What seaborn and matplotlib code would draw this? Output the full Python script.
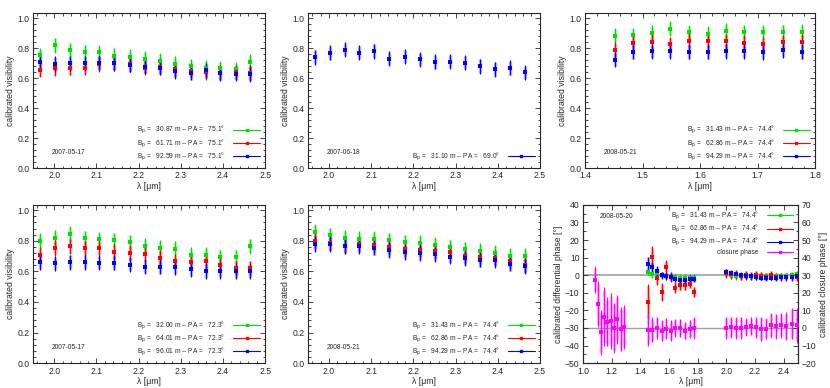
import matplotlib
matplotlib.use("Agg")
import matplotlib.pyplot as plt
import seaborn as sns
import pandas as pd
from matplotlib.lines import Line2D
from matplotlib.ticker import MultipleLocator

sns.set_style("ticks")
plt.rcParams['font.family'] = ['Liberation Sans', 'DejaVu Sans']

GREEN = "#00e000"
RED = "#ff0000"
BLUE = "#0000ff"
MAGENTA = "#ff00ff"

# wavelength grids (micron)
lam_k = [1.967, 2.002, 2.037, 2.072, 2.107, 2.142, 2.179, 2.215, 2.251, 2.287,
         2.323, 2.359, 2.394, 2.430, 2.465]
lam_h = [1.452, 1.484, 1.516, 1.548, 1.580, 1.613, 1.645, 1.677, 1.710, 1.744, 1.778]
lam_j = [1.083, 1.104, 1.126, 1.148, 1.170, 1.192, 1.215, 1.238, 1.262, 1.286]
lam_k2 = [1.995, 2.030, 2.066, 2.101, 2.136, 2.172, 2.207, 2.243, 2.278, 2.313,
          2.349, 2.384, 2.419, 2.455, 2.490]

# panel 1: 2007-05-17
v1_g = [0.751, 0.820, 0.785, 0.773, 0.771, 0.749, 0.742, 0.729, 0.716, 0.696,
        0.678, 0.669, 0.664, 0.658, 0.709]
v1_r = [0.656, 0.665, 0.668, 0.670, 0.693, 0.697, 0.693, 0.670, 0.672, 0.660,
        0.650, 0.638, 0.635, 0.638, 0.635]
v1_b = [0.705, 0.695, 0.698, 0.697, 0.703, 0.697, 0.688, 0.676, 0.670, 0.645,
        0.635, 0.651, 0.632, 0.630, 0.626]
# panel 2: 2007-06-18
v2_b = [0.740, 0.767, 0.790, 0.770, 0.780, 0.730, 0.743, 0.725, 0.707, 0.710,
        0.702, 0.680, 0.660, 0.668, 0.638]
# panel 3: 2008-05-21 H band
v3_g = [0.882, 0.885, 0.903, 0.930, 0.905, 0.895, 0.915, 0.905, 0.905, 0.907, 0.910]
v3_r = [0.787, 0.833, 0.843, 0.825, 0.848, 0.845, 0.845, 0.835, 0.825, 0.838, 0.842]
v3_b = [0.722, 0.775, 0.778, 0.778, 0.775, 0.775, 0.780, 0.778, 0.772, 0.785, 0.775]
# panel 4: 2007-05-17
v4_g = [0.800, 0.818, 0.844, 0.816, 0.809, 0.804, 0.791, 0.767, 0.753, 0.749,
        0.709, 0.709, 0.693, 0.693, 0.764]
v4_r = [0.710, 0.753, 0.765, 0.752, 0.750, 0.728, 0.722, 0.715, 0.688, 0.665,
        0.660, 0.667, 0.645, 0.620, 0.620]
v4_b = [0.660, 0.652, 0.660, 0.660, 0.658, 0.656, 0.645, 0.632, 0.630, 0.628,
        0.613, 0.603, 0.603, 0.600, 0.600]
# panel 5: 2008-05-21 K band
v5_g = [0.858, 0.836, 0.820, 0.815, 0.813, 0.804, 0.790, 0.785, 0.772, 0.758,
        0.744, 0.735, 0.720, 0.703, 0.700]
v5_r = [0.800, 0.787, 0.765, 0.780, 0.770, 0.757, 0.746, 0.742, 0.733, 0.727,
        0.702, 0.695, 0.690, 0.667, 0.642]
v5_b = [0.780, 0.780, 0.765, 0.765, 0.755, 0.740, 0.724, 0.720, 0.712, 0.697,
        0.685, 0.677, 0.673, 0.650, 0.633]
vis_err = 0.05

# panel 6: 2008-05-20 phases (deg)
dp_h_g = [2, 0.5, 1, 0, -0.5, -1, -1, -1.5, -1.5, -1.5, -1.5]
dp_h_r = [-15, 10.5, -1.5, -9.5, 4.5, -1, -7, -5.5, -5.5, -5, -9.5]
dp_h_r_err = [10, 6, 4, 5, 4, 3, 3, 3, 3, 2.5, 3]
dp_h_b = [6.5, 4.5, 2.5, 0, -0.5, -1, -2, -2.5, -2.5, -2, -2]
dp_h_b_err = [4, 3, 2.5, 2, 2, 2, 2, 2, 2, 2, 2]
dp_k_g = [1, 0, -0.5, -0.5, -0.5, -0.5, -0.5, -0.5, -0.5, -0.5, -0.5, -0.5, -0.5, 0, 0.5]
dp_k_r = [1, 0.5, 0.5, -0.5, 0, -0.5, 0, -0.5, -1, 0, -1, -1, -1, -1, -1]
dp_k_b = [2, 1, 0.5, 0, -0.5, -0.5, -1, -1.5, -1.5, -1.5, -1.5, -1, -1, -1, -0.5]
cp_j = [27.5, 13.5, -2.5, 6.5, 3.5, 4, 0, 5, -0.5, 0.5]
cp_j_err = [7.5, 13, 13, 17, 14, 16, 14, 14, 12.5, 12.5]
cp_h = [-1, -1, 0, -1.5, -0.5, -1.5, 0, 0, -1.5, -0.5, 0]
cp_h_err = [9, 7, 6, 6, 6, 6, 5, 5, 5, 5, 6]
cp_k = [0, 0.5, 0, 0, 0.5, 1, 0.5, -0.5, -0.5, 1.5, 1, 1.5, 1, 2.5, 1.5]
cp_k_err = [6, 6, 6, 6, 5, 5, 6, 7, 6, 7, 7, 7, 8, 9, 10]

FS = 6.2
LFS = 4.8


def style_axes(ax, right=True):
    for s in ax.spines.values():
        s.set_visible(True)
        s.set_linewidth(0.8)
    ax.tick_params(which="both", direction="in", top=True, right=right,
                   labelsize=FS, width=0.6, pad=2.5)
    ax.tick_params(which="major", length=3.5)
    ax.tick_params(which="minor", length=1.8)


def series(ax, x, y, color, err=vis_err):
    df = pd.DataFrame({"x": x, "y": y})
    pale = [e * 0.9 for e in err] if isinstance(err, list) else err * 0.9
    ax.errorbar(x, y, yerr=pale, fmt="none", ecolor=color, elinewidth=2.4,
                alpha=0.3, capsize=0)
    ax.errorbar(x, y, yerr=err, fmt="none", ecolor=color, elinewidth=0.8, capsize=0)
    sns.scatterplot(data=df, x="x", y="y", ax=ax, color=color, marker="s", s=6,
                    edgecolor=color, linewidth=0, zorder=5, legend=False)


def vis_panel(rect, lam, data, labels, date, xlim, xstep):
    ax = fig.add_axes(rect)
    for y, c in data:
        series(ax, lam, y, c)
    ax.set_xlim(*xlim)
    ax.set_ylim(0, 1.035)
    ax.xaxis.set_major_locator(MultipleLocator(xstep))
    ax.xaxis.set_minor_locator(MultipleLocator(xstep / 5))
    ax.yaxis.set_major_locator(MultipleLocator(0.2))
    ax.yaxis.set_minor_locator(MultipleLocator(0.04))
    ax.yaxis.set_major_formatter(matplotlib.ticker.FormatStrFormatter("%.1f"))
    ax.set_xlabel("λ [μm]", fontsize=FS, labelpad=1)
    ax.set_ylabel("calibrated visibility", fontsize=FS, labelpad=2)
    style_axes(ax)
    handles = [Line2D([], [], color=c, marker="s", markersize=2, lw=0.8) for _, c in data]
    ax.legend(handles, labels, loc="lower right", frameon=False, markerfirst=False,
              fontsize=LFS, handlelength=4, labelspacing=0.1, borderaxespad=0.4,
              handletextpad=1.2)
    ax.text(0.08, 0.09, date, transform=ax.transAxes, fontsize=LFS)
    return ax


def bp(b, pa):
    return "B$_\\mathrm{p}$ =   %.2f m -- PA =   %.1f°" % (b, pa)


fig = plt.figure(figsize=(8.3, 3.88), dpi=100)

top_b, top_h = 0.567, 0.40
bot_b, bot_h = 0.064, 0.408

vis_panel([0.040, top_b, 0.2795, top_h], lam_k,
          [(v1_g, GREEN), (v1_r, RED), (v1_b, BLUE)],
          [bp(30.87, 75.1), bp(61.71, 75.1), bp(92.59, 75.1)],
          "2007-05-17", (1.95, 2.5), 0.1)
vis_panel([0.371, top_b, 0.2795, top_h], lam_k,
          [(v2_b, BLUE)], [bp(31.10, 69.0)],
          "2007-06-18", (1.95, 2.5), 0.1)
vis_panel([0.705, top_b, 0.277, top_h], lam_h,
          [(v3_g, GREEN), (v3_r, RED), (v3_b, BLUE)],
          [bp(31.43, 74.4), bp(62.86, 74.4), bp(94.29, 74.4)],
          "2008-05-21", (1.4, 1.8), 0.1)
vis_panel([0.040, bot_b, 0.2795, bot_h], lam_k,
          [(v4_g, GREEN), (v4_r, RED), (v4_b, BLUE)],
          [bp(32.00, 72.3), bp(64.01, 72.3), bp(96.01, 72.3)],
          "2007-05-17", (1.95, 2.5), 0.1)
vis_panel([0.371, bot_b, 0.2795, bot_h], lam_k,
          [(v5_g, GREEN), (v5_r, RED), (v5_b, BLUE)],
          [bp(31.43, 74.4), bp(62.86, 74.4), bp(94.29, 74.4)],
          "2008-05-21", (1.95, 2.5), 0.1)

# phase panel
ax = fig.add_axes([0.7024, bot_b, 0.259, bot_h])
ax2 = ax.twinx()
ax.axhline(0, color="#a0a0a0", lw=1.2, zorder=0)
ax.axhline(-30, color="#a0a0a0", lw=1.0, zorder=0)
series(ax2, lam_j, cp_j, MAGENTA, cp_j_err)
series(ax2, lam_h, cp_h, MAGENTA, cp_h_err)
series(ax2, lam_k2, cp_k, MAGENTA, cp_k_err)
series(ax, lam_h, dp_h_g, GREEN, 2)
series(ax, lam_h, dp_h_r, RED, dp_h_r_err)
series(ax, lam_h, dp_h_b, BLUE, dp_h_b_err)
series(ax, lam_k2, dp_k_g, GREEN, 2)
series(ax, lam_k2, dp_k_r, RED, 2.5)
series(ax, lam_k2, dp_k_b, BLUE, 1.5)
ax.set_xlim(1.0, 2.5)
ax.set_ylim(-50, 40)
ax2.set_ylim(-20, 70)
ax.xaxis.set_major_locator(MultipleLocator(0.2))
ax.xaxis.set_minor_locator(MultipleLocator(0.1))
ax.xaxis.set_major_formatter(matplotlib.ticker.FormatStrFormatter("%.1f"))
ax.yaxis.set_major_locator(MultipleLocator(10))
ax.yaxis.set_minor_locator(MultipleLocator(5))
ax2.yaxis.set_major_locator(MultipleLocator(10))
ax2.yaxis.set_minor_locator(MultipleLocator(5))
style_axes(ax, right=False)
style_axes(ax2, right=True)
ax2.tick_params(which="both", left=False)
ax.set_xlabel("λ [μm]", fontsize=FS, labelpad=1)
ax.set_ylabel("calibrated differential phase [°]", fontsize=FS, labelpad=1)
ax2.set_ylabel("calibrated closure phase [°]", fontsize=FS, labelpad=2)
handles = [Line2D([], [], color=c, marker="s", markersize=2, lw=0.8)
           for c in (GREEN, RED, BLUE, MAGENTA)]
ax2.legend(handles, [bp(31.43, 74.4), bp(62.86, 74.4), bp(94.29, 74.4), "closure phase"],
           loc="upper right", frameon=False, markerfirst=False, fontsize=LFS,
           handlelength=4, labelspacing=0.1, borderaxespad=0.3, handletextpad=1.2)
ax.text(0.08, 0.92, "2008-05-20", transform=ax.transAxes, fontsize=LFS)

fig.savefig("out.png", dpi=100)
